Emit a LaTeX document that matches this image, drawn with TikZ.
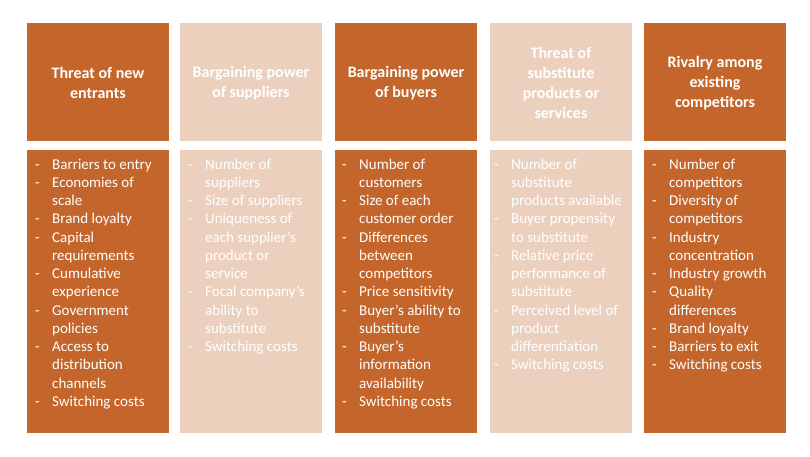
\documentclass[tikz,border=0pt]{standalone}
\usepackage{fontspec}
\setmainfont{Carlito}
\definecolor{dk}{HTML}{C4652B}
\definecolor{lt}{HTML}{ECD0BE}
\tikzset{
  hdr/.style={fill=#1, minimum width=142pt, minimum height=118pt, anchor=north west,
    inner sep=0pt, outer sep=0pt},
  hdrtxt/.style={text=white, font=\fontsize{16}{20}\selectfont\bfseries, align=center, inner sep=0pt},
  bdy/.style={fill=#1, minimum width=142pt, minimum height=283pt, anchor=north west,
    inner sep=0pt, outer sep=0pt},
  lst/.style={anchor=north west, inner sep=0pt, text=white, font=\fontsize{15}{18.25}\selectfont, align=left},
}
\newcommand\dsh{\rule{0pt}{12pt}\makebox[17pt][l]{-}}
\newcommand\ind{\hspace*{17pt}}
\begin{document}
\begin{tikzpicture}[x=1pt,y=-1pt]
\useasboundingbox (0,0) rectangle (810,457);
% headers
\node[hdr=dk] (h1) at (27,23) {};
\node[hdr=lt] (h2) at (180,23) {};
\node[hdr=dk] (h3) at (335,23) {};
\node[hdr=lt] (h4) at (490,23) {};
\node[hdr=dk] (h5) at (644,23) {};
\node[hdrtxt] (t1) at ([yshift=-1pt]h1.center) {Threat of new\\entrants};
\node[hdrtxt] (t2) at ([yshift=-1pt]h2.center) {Bargaining power\\of suppliers};
\node[hdrtxt] (t3) at ([yshift=-1pt]h3.center) {Bargaining power\\of buyers};
\node[hdrtxt] (t4) at ([yshift=-1pt]h4.center) {Threat of\\substitute\\products or\\services};
\node[hdrtxt] (t5) at ([yshift=-1pt]h5.center) {Rivalry among\\existing\\competitors};
% bodies
\node[bdy=dk] (b1) at (27,150) {};
\node[bdy=lt] (b2) at (180,150) {};
\node[bdy=dk] (b3) at (335,150) {};
\node[bdy=lt] (b4) at (490,150) {};
\node[bdy=dk] (b5) at (644,150) {};
\node[lst] (l1) at ([xshift=8pt,yshift=-7pt]b1.north west) {%
\dsh Barriers to entry\\
\dsh Economies of\\ \ind scale\\
\dsh Brand loyalty\\
\dsh Capital\\ \ind requirements\\
\dsh Cumulative\\ \ind experience\\
\dsh Government\\ \ind policies\\
\dsh Access to\\ \ind distribution\\ \ind channels\\
\dsh Switching costs};
\node[lst] (l2) at ([xshift=8pt,yshift=-7pt]b2.north west) {%
\dsh Number of\\ \ind suppliers\\
\dsh Size of suppliers\\
\dsh Uniqueness of\\ \ind each supplier’s\\ \ind product or\\ \ind service\\
\dsh Focal company’s\\ \ind ability to\\ \ind substitute\\
\dsh Switching costs};
\node[lst] (l3) at ([xshift=7pt,yshift=-7pt]b3.north west) {%
\dsh Number of\\ \ind customers\\
\dsh Size of each\\ \ind customer order\\
\dsh Differences\\ \ind between\\ \ind competitors\\
\dsh Price sensitivity\\
\dsh Buyer’s ability to\\ \ind substitute\\
\dsh Buyer’s\\ \ind information\\ \ind availability\\
\dsh Switching costs};
\node[lst] (l4) at ([xshift=4pt,yshift=-7pt]b4.north west) {%
\dsh Number of\\ \ind substitute\\ \ind products available\\
\dsh Buyer propensity\\ \ind to substitute\\
\dsh Relative price\\ \ind performance of\\ \ind substitute\\
\dsh Perceived level of\\ \ind product\\ \ind differentiation\\
\dsh Switching costs};
\node[lst] (l5) at ([xshift=8pt,yshift=-7pt]b5.north west) {%
\dsh Number of\\ \ind competitors\\
\dsh Diversity of\\ \ind competitors\\
\dsh Industry\\ \ind concentration\\
\dsh Industry growth\\
\dsh Quality\\ \ind differences\\
\dsh Brand loyalty\\
\dsh Barriers to exit\\
\dsh Switching costs};
\end{tikzpicture}
\end{document}
